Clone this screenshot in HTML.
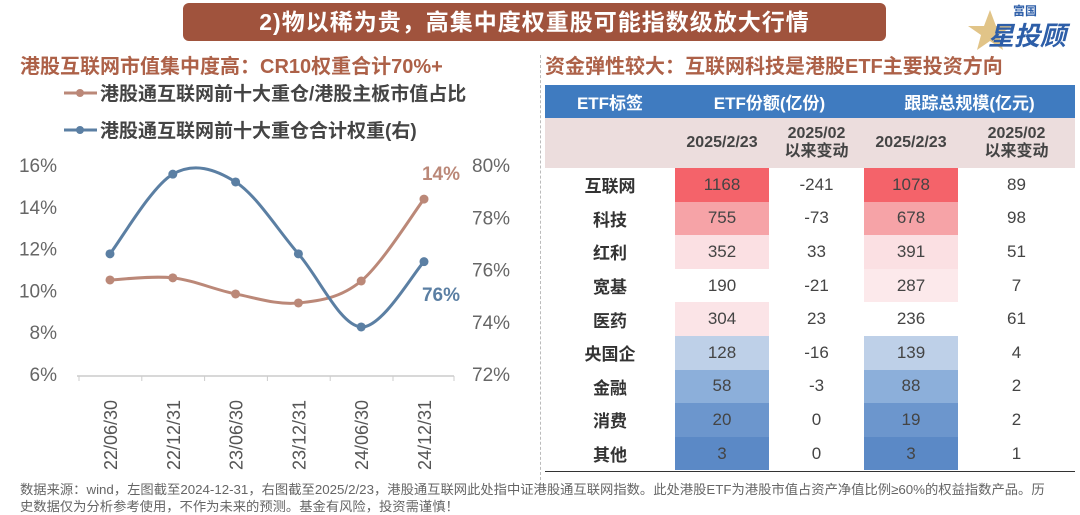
<!DOCTYPE html>
<html><head><meta charset="utf-8">
<style>
body{margin:0;width:1080px;height:514px;background:#fff;position:relative;overflow:hidden;font-family:"Liberation Sans","Noto Sans CJK SC",sans-serif;}
.abs{position:absolute}
#banner{left:183px;top:3px;width:703px;height:38px;background:#a0533d;border-radius:6px;color:#fff;font-weight:bold;font-size:23px;line-height:38px;text-align:center;letter-spacing:1px}
.sub{top:50px;font-size:20px;font-weight:bold;color:#ad6148;white-space:nowrap}
table{border-collapse:collapse;position:absolute;left:545px;top:85px;width:530px;table-layout:fixed}
td{text-align:center;padding:0;font-size:17px;color:#444;height:33.6px}
tr.h1 td{background:#3f7bc0;color:#fff;font-weight:bold;height:33px;font-size:17px}
tr.h2 td{background:#ecdddd;font-weight:bold;height:50px;font-size:16px;line-height:18px}
td.lab{font-weight:bold;color:#333}
</style></head><body>
<div id="banner" class="abs">2)物以稀为贵，高集中度权重股可能指数级放大行情</div>
<div class="abs" style="left:968px;top:2px;width:100px;height:50px">
<svg width="100" height="50"><polygon points="22,8 28,24 44,24 31,33 35,48 22,39 9,48 13,33 0,24 16,24" fill="#d9b56a" opacity="0.8"/></svg>
<div class="abs" style="left:45px;top:0;font-size:12px;font-weight:bold;color:#2d5ea8">富国</div>
<div class="abs" style="left:20px;top:14px;font-size:26px;font-weight:bold;font-style:italic;color:#2d5ea8">星投顾</div>
</div>
<div class="abs sub" style="left:20px">港股互联网市值集中度高：CR10权重合计70%+</div>
<div class="abs sub" style="left:545px">资金弹性较大：互联网科技是港股ETF主要投资方向</div>
<div class="abs" style="left:540px;top:55px;height:430px;border-left:1px dashed #bbb"></div>

<svg class="abs" style="left:0;top:0" width="540" height="514" id="chart"></svg>

<table>
<colgroup><col style="width:130px"><col style="width:94px"><col style="width:95px"><col style="width:94px"><col style="width:117px"></colgroup>
<tr class="h1"><td>ETF标签</td><td colspan="2">ETF份额(亿份)</td><td colspan="2">跟踪总规模(亿元)</td></tr>
<tr class="h2"><td></td><td>2025/2/23</td><td>2025/02<br>以来变动</td><td>2025/2/23</td><td>2025/02<br>以来变动</td></tr>
<tbody id="tb"></tbody>
</table>
<div class="abs" style="left:545px;top:471px;width:530px;border-top:1.5px solid #333"></div>
<div class="abs" style="left:20px;top:481px;font-size:13.3px;color:#666;line-height:17px;white-space:nowrap">数据来源：wind，左图截至2024-12-31，右图截至2025/2/23，港股通互联网此处指中证港股通互联网指数。此处港股ETF为港股市值占资产净值比例≥60%的权益指数产品。历<br>史数据仅为分析参考使用，不作为未来的预测。基金有风险，投资需谨慎！</div>

<script>
const cats=["22/06/30","22/12/31","23/06/30","23/12/31","24/06/30","24/12/31"];
const ratioVals=[10.5,10.6,9.83,9.4,10.45,14.37];
const weightVals=[76.6,79.65,79.35,76.6,73.8,76.3];
const leftTicks=[6,8,10,12,14,16];
const rightTicks=[72,74,76,78,80];
const rowLabels=["互联网","科技","红利","宽基","医药","央国企","金融","消费","其他"];
const shares=[1168,755,352,190,304,128,58,20,3];
const sharesChg=[-241,-73,33,-21,23,-16,-3,0,0];
const scale=[1078,678,391,287,236,139,88,19,3];
const scaleChg=[89,98,51,7,61,4,2,2,1];

const NS="http://www.w3.org/2000/svg";
const svg=document.getElementById('chart');
const yL=v=>374-(v-6)*(209/10);
const yR=v=>374-(v-72)*(209/8);
const xC=i=>110+i*62.8;
function mk(t,a,txt){const e=document.createElementNS(NS,t);for(const k in a)e.setAttribute(k,a[k]);if(txt!==undefined)e.textContent=txt;svg.appendChild(e);return e;}
leftTicks.forEach(t=>{const e=mk('text',{x:57,y:yL(t)+7,'text-anchor':'end','font-size':19,fill:'#666'},t+'%');

});
rightTicks.forEach(t=>{const e=mk('text',{x:472,y:yR(t)+7,'font-size':19,fill:'#666'},t+'%');

});
const ax=mk('line',{x1:77,y1:376,x2:454,y2:376,stroke:'#ccc','stroke-width':1.5});


cats.forEach((c,i)=>{const x=xC(i);mk('line',{x1:x-31,y1:376,x2:x-31,y2:381,stroke:'#ccc'});
const e=mk('text',{x:x+7,y:470,transform:`rotate(-90 ${x+7} 470)`,'font-size':18,fill:'#555'},c);

});
mk('line',{x1:454,y1:376,x2:454,y2:381,stroke:'#ccc'});
function path(pts){let d=`M${pts[0][0]},${pts[0][1]}`;for(let i=0;i<pts.length-1;i++){const p0=pts[Math.max(0,i-1)],p1=pts[i],p2=pts[i+1],p3=pts[Math.min(pts.length-1,i+2)];
d+=` C${p1[0]+(p2[0]-p0[0])/6},${p1[1]+(p2[1]-p0[1])/6} ${p2[0]-(p3[0]-p1[0])/6},${p2[1]-(p3[1]-p1[1])/6} ${p2[0]},${p2[1]}`;}return d;}
function series(vals,yf,col,name){const pts=vals.map((v,i)=>[xC(i),yf(v)]);
const p=mk('path',{d:path(pts),fill:'none',stroke:col,'stroke-width':3});


pts.forEach(q=>{const c=mk('circle',{cx:q[0],cy:q[1],r:4.5,fill:col});

});}
series(ratioVals,yL,'#bb8878','ratio');
series(weightVals,yR,'#5b7fa3','weight');
const l1=mk('text',{x:460,y:180,'text-anchor':'end','font-size':19,'font-weight':'bold',fill:'#bb8878'},Math.round(ratioVals[5])+'%');


const l2=mk('text',{x:460,y:301,'text-anchor':'end','font-size':19,'font-weight':'bold',fill:'#5b7fa3'},Math.round(weightVals[5])+'%');


[['#bb8878',93,'港股通互联网前十大重仓/港股主板市值占比','legend-ratio'],['#5b7fa3',130,'港股通互联网前十大重仓合计权重(右)','legend-weight']].forEach(l=>{
mk('line',{x1:64,y1:l[1],x2:97,y2:l[1],stroke:l[0],'stroke-width':3});mk('circle',{cx:80,cy:l[1],r:4,fill:l[0]});
const t=mk('text',{x:100,y:l[1]+7,'font-size':19,'font-weight':'bold',fill:'#444'},l[2]);

});

function colorFor(v){if(v>=1000)return'#f4636a';if(v>=600)return'#f6a3a7';if(v>=340)return'#fbe0e3';if(v>=280)return'#fce9eb';if(v>=150)return'#fff';if(v>=100)return'#bed0e8';if(v>=40)return'#8cafda';if(v>=10)return'#6c96cd';return'#5b89c6';}
function shareColor(v){if(v>=300&&v<340)return'#fbe4e7';return colorFor(v);}
const tb=document.getElementById('tb');
rowLabels.forEach((lab,i)=>{const tr=document.createElement('tr');


tr.innerHTML=`<td class="lab">${lab}</td><td style="background:${shareColor(shares[i])}">${shares[i]}</td><td>${sharesChg[i]}</td><td style="background:${colorFor(scale[i])}">${scale[i]}</td><td>${scaleChg[i]}</td>`;
tb.appendChild(tr);});
</script>
</body></html>
